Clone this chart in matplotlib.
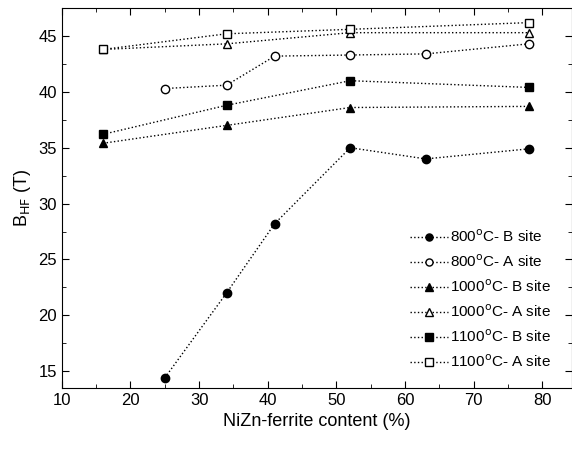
import numpy as np
import matplotlib
matplotlib.use('Agg')
import matplotlib.pyplot as plt
from matplotlib.ticker import MultipleLocator

plt.rcParams['font.family'] = ['Liberation Sans', 'DejaVu Sans']

# data
x6 = [25, 34, 41, 52, 63, 78]
x4 = [16, 34, 52, 78]
b800 = [14.4, 22.0, 28.2, 35.0, 34.0, 34.9]
a800 = [40.3, 40.6, 43.2, 43.3, 43.4, 44.3]
b1000 = [35.4, 37.0, 38.6, 38.7]
a1000 = [43.8, 44.3, 45.3, 45.3]
b1100 = [36.2, 38.8, 41.0, 40.4]
a1100 = [43.8, 45.2, 45.6, 46.2]

fig = plt.figure(figsize=(5.72, 4.5), dpi=100)
ax = fig.add_axes([0.108, 0.138, 0.892, 0.844])

kw = dict(color='black', linestyle=':', linewidth=1, markersize=6)
ax.plot(x6, b800, marker='o', label='800$^{\\rm o}$C- B site', **kw)
ax.plot(x6, a800, marker='o', mfc='white', label='800$^{\\rm o}$C- A site', **kw)
ax.plot(x4, b1000, marker='^', label='1000$^{\\rm o}$C- B site', **kw)
ax.plot(x4, a1000, marker='^', mfc='white', label='1000$^{\\rm o}$C- A site', **kw)
ax.plot(x4, b1100, marker='s', label='1100$^{\\rm o}$C- B site', **kw)
ax.plot(x4, a1100, marker='s', mfc='white', label='1100$^{\\rm o}$C- A site', **kw)

ax.set_xlim(10, 84.3)
ax.set_ylim(13.5, 47.5)
ax.xaxis.set_major_locator(MultipleLocator(10))
ax.xaxis.set_minor_locator(MultipleLocator(5))
ax.yaxis.set_major_locator(MultipleLocator(5))
ax.yaxis.set_minor_locator(MultipleLocator(2.5))
ax.tick_params(which='both', direction='in', top=True, right=True, labelsize=12)
ax.tick_params(which='major', length=5)
ax.tick_params(which='minor', length=3)

ax.set_xlabel('NiZn-ferrite content (%)', fontsize=13)
ax.set_ylabel('B$_{\\rm HF}$ (T)', fontsize=13)

ax.legend(loc='lower right', frameon=False, fontsize=11, handlelength=2.5,
          handletextpad=0.1, labelspacing=0.55, markerscale=0.85,
          bbox_to_anchor=(0.985, 0.01))

fig.savefig('out.png', dpi=100)
